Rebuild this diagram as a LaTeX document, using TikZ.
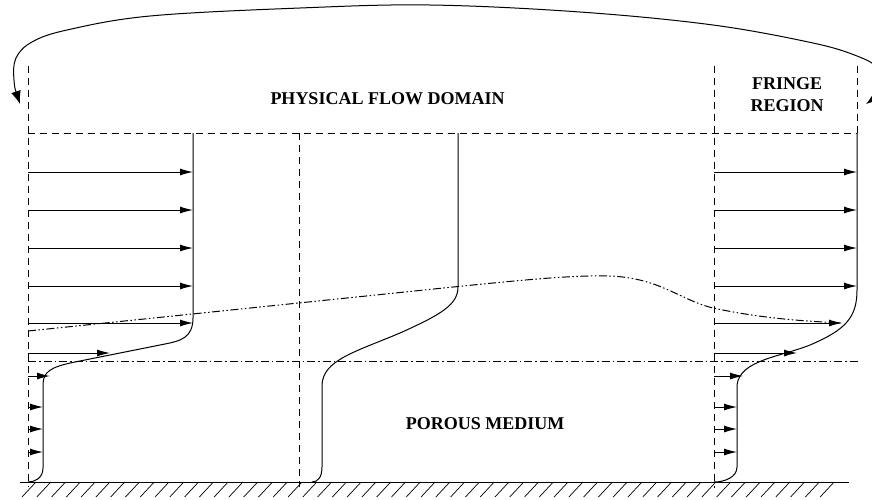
\documentclass[tikz,border=0pt]{standalone}
\usepackage{fontspec}
\setmainfont{Liberation Serif}
\usetikzlibrary{arrows.meta}
\begin{document}
\begin{tikzpicture}[x=1pt,y=-1pt,
  solidline/.style={line width=1pt},
  domainline/.style={line width=1pt, dash pattern=on 7pt off 5pt},
  interface/.style={line width=1pt, dash pattern=on 8pt off 3pt on 1.5pt off 3pt},
  edgeline/.style={line width=1pt, dash pattern=on 8pt off 2.5pt on 1.5pt off 2.5pt on 1.5pt off 2.5pt},
  vel/.style={line width=1pt, -{Latex[length=13pt,width=7pt]}},
  regionlabel/.style={font=\fontsize{18}{22}\selectfont\bfseries, align=center, inner sep=0pt}
]
\useasboundingbox (0,0) rectangle (872,499);
\clip (0,0) rectangle (872,499);

% domain boundaries
\draw[domainline] (28,66) -- (28,487);
\draw[domainline] (299,133) -- (299,487);
\draw[domainline] (714,66) -- (714,488);
\draw[domainline] (857,66) -- (857,133);
\draw[domainline] (28,133) -- (857,133);
\draw[interface] (28,361) -- (858,361);

% wall and hatching
\draw[solidline] (20,482) -- (849,482);
\foreach \i in {0,...,54}
  \draw[line width=0.7pt] ({36+\i*14.78},482) -- ({22+\i*14.78},497);

% edge of boundary layer
\draw[edgeline] (28,331) -- (400,292.5) .. controls (520,280) and (570,275) .. (610,276)
  .. controls (660,278) and (680,300) .. (713,308) .. controls (760,318) and (800,321) .. (842,323);

% left profile
\draw[solidline] (193,133) -- (193,318) .. controls (193,338) and (180,341) .. (165,344)
  -- (75,362) .. controls (50,367) and (43,372) .. (43,385) -- (43,468)
  .. controls (43,478) and (35,482) .. (28,482);
\foreach \y in {172,210,248,286,323}
  \draw[vel] (28,\y) -- (193,\y);
\draw[vel] (28,353) -- (110,353);
\draw[vel] (28,376) -- (50,376);
\foreach \y in {407,429,452}
  \draw[vel] (28,\y) -- (43,\y);

% middle profile
\draw[solidline] (458,133) -- (458,287) .. controls (458,305) and (440,315) .. (400,333)
  .. controls (355,352) and (323,360) .. (322,385) -- (322,467)
  .. controls (322,477) and (318,482) .. (312,482);

% right profile
\draw[solidline] (857,133) -- (857,290) .. controls (857,318) and (845,330) .. (810,345)
  .. controls (780,357) and (740,360) .. (737,385) -- (737,467)
  .. controls (737,477) and (725,482) .. (714,482);
\foreach \y in {172,210,248,286}
  \draw[vel] (714,\y) -- (857,\y);
\draw[vel] (714,323) -- (842,323);
\draw[vel] (714,353) -- (797,353);
\draw[vel] (714,376) -- (743,376);
\foreach \y in {407,429,452}
  \draw[vel] (714,\y) -- (737,\y);

% periodic arrow
\draw[line width=1pt, {Latex[length=13pt,width=10pt]}-{Latex[length=13pt,width=10pt]}]
  plot[smooth, tension=0.6] coordinates {(20,104) (14,80) (16,58) (32,42) (67,30) (150,16)
  (300,8) (430,5) (580,12) (713,25) (813,43) (857,56) (878,68) (885,86) (866,104)};

% labels
\node[regionlabel] (phys) at (387.5,98.5) {PHYSICAL FLOW DOMAIN};
\node[regionlabel] (fringe) at (787,94.5) {FRINGE\\REGION};
\node[regionlabel] (porous) at (485,423.5) {POROUS MEDIUM};
\end{tikzpicture}
\end{document}
